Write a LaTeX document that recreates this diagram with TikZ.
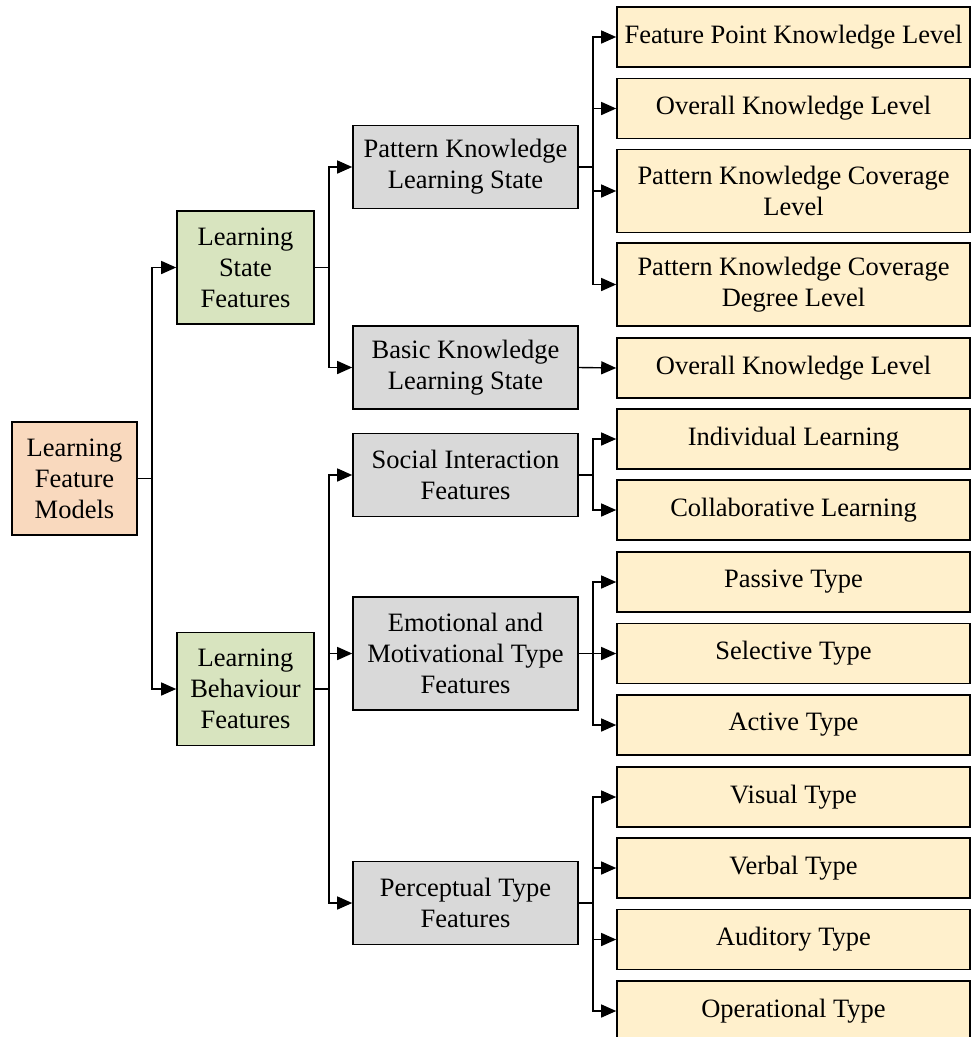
\documentclass[tikz,border=0pt]{standalone}
\usepackage{fontspec}
\setmainfont{Liberation Serif}
\usetikzlibrary{arrows.meta}

\definecolor{rootfill}{HTML}{F9D9BE}
\definecolor{midfill}{HTML}{D8E4BF}
\definecolor{grayfill}{HTML}{D9D9D9}
\definecolor{leaffill}{HTML}{FFF0CC}

\tikzset{
	box/.style={draw=black,line width=1.6pt,align=center,inner sep=0pt,font=\fontsize{26.5}{31}\selectfont},
	rootbox/.style={box,fill=rootfill,minimum width=125pt,minimum height=113pt},
	midbox/.style={box,fill=midfill,minimum width=137pt,minimum height=113pt},
	graybox/.style={box,fill=grayfill,minimum width=225pt},
	leafbox/.style={box,fill=leaffill,minimum width=353pt},
	link/.style={line width=1.4pt,-{Triangle[length=15pt,width=13pt]}}
}

\begin{document}
\begin{tikzpicture}[x=1pt,y=-1pt]
	
	% 画布范围
	\useasboundingbox (0,0) rectangle (972,1037);
	\clip (0,0) rectangle (972,1037);
	
	% 绘制根节点
	\node[rootbox] (root) at (74.5,478.5) {Learning\\Feature\\Models};
	
	% 第一层
	\node[midbox] (ls) at (245.5,267.5) {Learning\\State\\Features};
	\node[midbox] (lb) at (245.5,689) {Learning\\Behaviour\\Features};
	
	% 第二层
	\node[graybox,minimum height=83pt] (pk) at (465.5,167) {Pattern Knowledge\\Learning State};
	\node[graybox,minimum height=83pt] (bk) at (465.5,367.5) {Basic Knowledge\\Learning State};
	\node[graybox,minimum height=83pt] (si) at (465.5,475) {Social Interaction\\Features};
	\node[graybox,minimum height=113pt] (em) at (465.5,653.5) {Emotional and\\Motivational Type\\Features};
	\node[graybox,minimum height=83pt] (pt) at (465.5,903) {Perceptual Type\\Features};
	
	% 第三层
	\node[leafbox,minimum height=60pt] (fp) at (793.5,37) {Feature Point Knowledge Level};
	\node[leafbox,minimum height=60pt] (ov) at (793.5,108.5) {Overall Knowledge Level};
	\node[leafbox,minimum height=83pt] (pc) at (793.5,191) {Pattern Knowledge Coverage\\Level};
	\node[leafbox,minimum height=83pt] (pd) at (793.5,284.5) {Pattern Knowledge Coverage\\Degree Level};
	\node[leafbox,minimum height=60pt] (ob) at (793.5,368) {Overall Knowledge Level};
	\node[leafbox,minimum height=60pt] (il) at (793.5,439) {Individual Learning};
	\node[leafbox,minimum height=60pt] (cl) at (793.5,510) {Collaborative Learning};
	\node[leafbox,minimum height=60pt] (pa) at (793.5,582) {Passive Type};
	\node[leafbox,minimum height=60pt] (se) at (793.5,653.5) {Selective Type};
	\node[leafbox,minimum height=60pt] (ac) at (793.5,725) {Active Type};
	\node[leafbox,minimum height=60pt] (vi) at (793.5,797) {Visual Type};
	\node[leafbox,minimum height=60pt] (ve) at (793.5,868) {Verbal Type};
	\node[leafbox,minimum height=60pt] (au) at (793.5,939.5) {Auditory Type};
	\node[leafbox,minimum height=60pt] (op) at (793.5,1011) {Operational Type};
	
	% 绘制连接线
	\foreach \t in {ls,lb}
		\draw[link] (root.east) -- ++(14,0) |- (\t.west);
	\foreach \t in {pk,bk}
		\draw[link] (ls.east) -- ++(14,0) |- (\t.west);
	\foreach \t in {si,em,pt}
		\draw[link] (lb.east) -- ++(14,0) |- (\t.west);
	\foreach \t in {fp,ov,pc,pd}
		\draw[link] (pk.east) -- ++(14,0) |- (\t.west);
	\draw[link] (bk.east) -- (ob.west);
	\foreach \t in {il,cl}
		\draw[link] (si.east) -- ++(14,0) |- (\t.west);
	\foreach \t in {pa,se,ac}
		\draw[link] (em.east) -- ++(14,0) |- (\t.west);
	\foreach \t in {vi,ve,au,op}
		\draw[link] (pt.east) -- ++(14,0) |- (\t.west);
	
\end{tikzpicture}
\end{document}
